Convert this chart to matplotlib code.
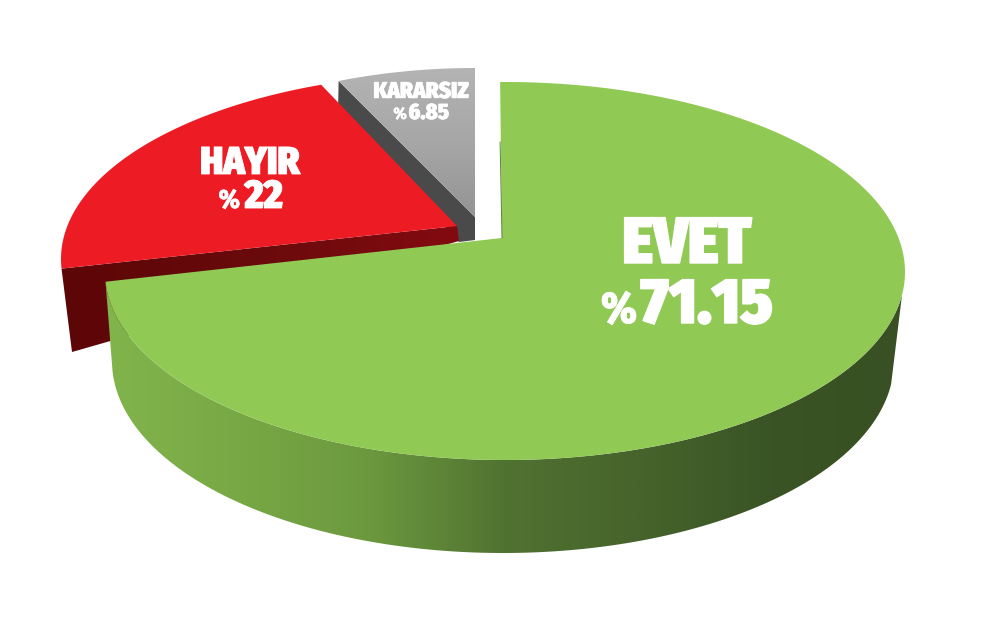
import numpy as np
import matplotlib
matplotlib.use("Agg")
import matplotlib.pyplot as plt
import matplotlib.patheffects as pe
from matplotlib.colors import LinearSegmentedColormap
from matplotlib.patches import Polygon

labels = ["EVET", "HAYIR", "KARARSIZ"]
values = [71.15, 22, 6.85]

plt.rcParams["font.family"] = ["Fira Sans Condensed", "Roboto Condensed", "Liberation Sans", "DejaVu Sans"]
W, H = 1000, 624
fig = plt.figure(figsize=(W / 100, H / 100), dpi=100, facecolor="white")
ax = fig.add_axes([0, 0, 1, 1])
ax.axis("off")

# slice boundaries: clockwise from 12 o'clock, bent by the tilt of the drawing
edges = np.concatenate([[0], np.cumsum(values)]) / sum(values) * 360
bent = lambda a: np.interp(a, [0, 256.1, 335.3, 360], [-0.7, 267, 339.5, 360])
spans = [(bent(edges[i]), bent(edges[i + 1])) for i in range(3)]


def rim(th, cx, cy, rx, ry_up, ry_dn):
    r = np.radians(th)
    c = np.cos(r)
    return np.column_stack([cx + rx * np.sin(r), cy - np.where(c > 0, ry_up, ry_dn) * c])


def sweep(a, b, n=240):
    return np.linspace(a, b, n)


def gradient(poly, colors, extent, vertical=False, z=1):
    cmap = LinearSegmentedColormap.from_list("g", colors)
    g = np.linspace(0, 1, 512)
    g = g[:, None] if vertical else g[None, :]
    im = ax.imshow(g, cmap=cmap, extent=extent, aspect="auto", zorder=z, interpolation="bilinear")
    p = Polygon(poly, closed=True, transform=ax.transData, fc="none", ec="none")
    ax.add_patch(p)
    im.set_clip_path(p)


# ---- KARARSIZ
a, b = spans[2]
arc = rim(sweep(a, b, 60), 475, 274, 390, 206, 206)
ax.add_patch(Polygon([arc[0], (338, 112), (459, 242), (475, 240), (475, 217)],
                     fc="#4a4a4a", ec="none", zorder=1))
gradient(np.vstack([arc, [(475, 217)]]), ["#b4b4b4", "#a6a6a6", "#929292"], (330, 480, 225, 65),
         vertical=True, z=2)

# ---- HAYIR
a, b = spans[1]
arc = rim(sweep(a, b, 120), 461, 259, 400, 186, 186)
apex = (457, 226)
gradient([arc[0], apex, (459, 241), (72, 352), (111, 347), (72, 352)],
         ["#5c0607", "#6a0a0c", "#830a10"], (60, 460, 360, 220), z=3)
ax.add_patch(Polygon(np.vstack([arc, [apex]]), fc="#ed1c24", ec="none", zorder=4))

# ---- EVET
a, b = spans[0]
top = (505, 272, 400, 190, 188)
low = (503, 361, 391, 192, 192)
th = sweep(97, b)
side = np.vstack([rim(th, *top), rim(th[::-1], *low)])
gradient(side, ["#82b44c", "#78a845", "#6b983e", "#507231", "#46642c", "#3a5425", "#385023"],
         (105, 905, 560, 270), z=5)
arc = rim(sweep(a, b, 600), *top)
g_apex = (502, 238)
ax.add_patch(Polygon(np.vstack([arc, [g_apex]]), fc="#91c955", ec="none", zorder=6))
ax.plot([arc[0][0], g_apex[0]], [arc[0][1] + 60, g_apex[1]], color="#5f8239", lw=0.7, zorder=7)

ax.set_xlim(0, W)
ax.set_ylim(H, 0)


# ---- text
def heavy(w):
    return [pe.withStroke(linewidth=w, foreground="white")]


def put(x, y, s, size, ha="center", w=1.0):
    ax.text(x, y, s, color="white", fontsize=size, fontweight=900, ha=ha, va="baseline",
            zorder=10, path_effects=heavy(w))


put(687, 263, labels[0], 47, w=1.0)
put(773, 323, f"{values[0]:g}", 46, ha="right", w=1.0)
put(637, 323, "%", 32, ha="right", w=0.3)

put(250, 174, labels[1], 28, w=0.6)
put(283, 208, f"{values[1]:g}", 29, ha="right", w=0.6)
put(240, 208, "%", 19, ha="right", w=0.2)

put(421, 98, labels[2], 16.5, w=0.3)
put(449, 119, f"{values[2]:g}", 16, ha="right", w=0.3)
put(407, 119, "%", 12, ha="right", w=0.1)

fig.savefig("out.png", dpi=100, facecolor="white")
